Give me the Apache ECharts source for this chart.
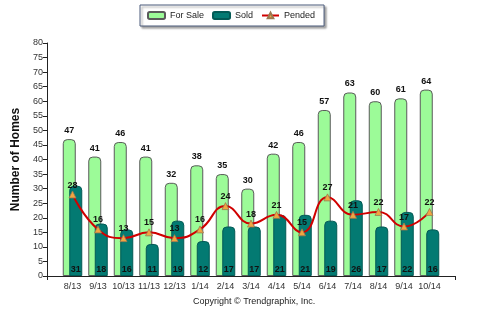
<!DOCTYPE html>
<html>
<head>
<meta charset="utf-8">
<script src="https://cdn.jsdelivr.net/npm/echarts@6/dist/echarts.min.js"></script>
<style>
  html, body { margin: 0; padding: 0; background: #fff; }
  #chart { width: 482px; height: 321px; }
</style>
</head>
<body>
<div id="chart"></div>
<script>
// Monthly housing inventory: homes for sale, sold and pended
const months = ['8/13', '9/13', '10/13', '11/13', '12/13', '1/14', '2/14', '3/14',
                '4/14', '5/14', '6/14', '7/14', '8/14', '9/14', '10/14'];
const forSale = [47, 41, 46, 41, 32, 38, 35, 30, 42, 46, 57, 63, 60, 61, 64];
const sold    = [31, 18, 16, 11, 19, 12, 17, 17, 21, 21, 19, 26, 17, 22, 16];
const pended  = [28, 16, 13, 15, 13, 16, 24, 18, 21, 15, 27, 21, 22, 17, 22];
const yTicks = { min: 0, max: 80, step: 5 };

// Empty slots at both ends leave a margin inside the axis line
const pad = arr => ['-'].concat(arr, ['-']);
const cats = [''].concat(months, ['']);

const FONT = '"Liberation Sans", Arial, sans-serif';
const valueLabel = {
  show: true,
  fontFamily: FONT,
  fontSize: 9,
  fontWeight: 'bold',
  color: '#111'
};

const chart = echarts.init(document.getElementById('chart'), null, { renderer: 'canvas' });
chart.setOption({
  animation: false,
  backgroundColor: '#fff',
  textStyle: { fontFamily: FONT },
  legend: {
    top: 5,
    left: 140,
    padding: [6, 9, 6, 7],
    itemGap: 8,
    itemWidth: 17,
    itemHeight: 7,
    backgroundColor: '#fff',
    borderColor: '#4a5a7a',
    borderWidth: 1,
    shadowColor: 'rgba(0,0,0,0.35)',
    shadowBlur: 2,
    shadowOffsetX: 2,
    shadowOffsetY: 2,
    textStyle: { fontFamily: FONT, fontSize: 9, color: '#222' },
    data: ['For Sale', 'Sold', 'Pended']
  },
  grid: { left: 47, right: 27, top: 43, bottom: 45 },
  xAxis: {
    type: 'category',
    data: cats,
    boundaryGap: false,
    axisLine: { lineStyle: { color: '#222', width: 1 } },
    axisTick: {
      show: true,
      length: 4,
      interval: i => i === 0 || i === cats.length - 1,
      lineStyle: { color: '#222' }
    },
    axisLabel: { fontFamily: FONT, fontSize: 9, color: '#333', margin: 6, interval: 0 },
    splitLine: { show: false }
  },
  yAxis: {
    type: 'value',
    min: yTicks.min,
    max: yTicks.max,
    interval: yTicks.step,
    name: 'Number of Homes',
    nameLocation: 'middle',
    nameRotate: 90,
    nameGap: 21,
    nameTextStyle: { fontFamily: FONT, fontSize: 12, fontWeight: 'bold', color: '#111' },
    axisLine: { show: true, lineStyle: { color: '#222', width: 1 } },
    axisTick: { show: true, length: 4, lineStyle: { color: '#222' } },
    axisLabel: { fontFamily: FONT, fontSize: 9, color: '#333', margin: 4 },
    splitLine: { show: false }
  },
  series: [
    {
      name: 'For Sale',
      type: 'bar',
      data: pad(forSale),
      barWidth: 13,
      barGap: '-50%',
      itemStyle: {
        color: '#9cfb98',
        borderColor: '#5a5a5a',
        borderWidth: 1,
        borderRadius: [4, 4, 0, 0]
      },
      label: Object.assign({ position: 'top', distance: 4 }, valueLabel)
    },
    {
      name: 'Sold',
      type: 'bar',
      data: pad(sold),
      barWidth: 13,
      itemStyle: {
        color: '#037a72',
        borderColor: '#035a55',
        borderWidth: 1,
        borderRadius: [4, 4, 0, 0]
      },
      label: Object.assign({ position: 'insideBottom', distance: 2 }, valueLabel)
    },
    {
      name: 'Pended',
      type: 'line',
      data: pad(pended),
      smooth: 0.5,
      symbol: 'triangle',
      symbolSize: 7,
      showSymbol: true,
      lineStyle: { color: '#d00000', width: 2 },
      itemStyle: { color: '#f2a541', borderColor: '#9a7a50', borderWidth: 0.8 },
      label: Object.assign({ position: 'top', distance: 1 }, valueLabel)
    }
  ],
  graphic: [
    {
      type: 'text',
      left: 193,
      top: 297,
      style: {
        text: 'Copyright \u00A9 Trendgraphix, Inc.',
        fontFamily: FONT,
        fontSize: 9,
        fill: '#222'
      }
    }
  ]
});
</script>
</body>
</html>
